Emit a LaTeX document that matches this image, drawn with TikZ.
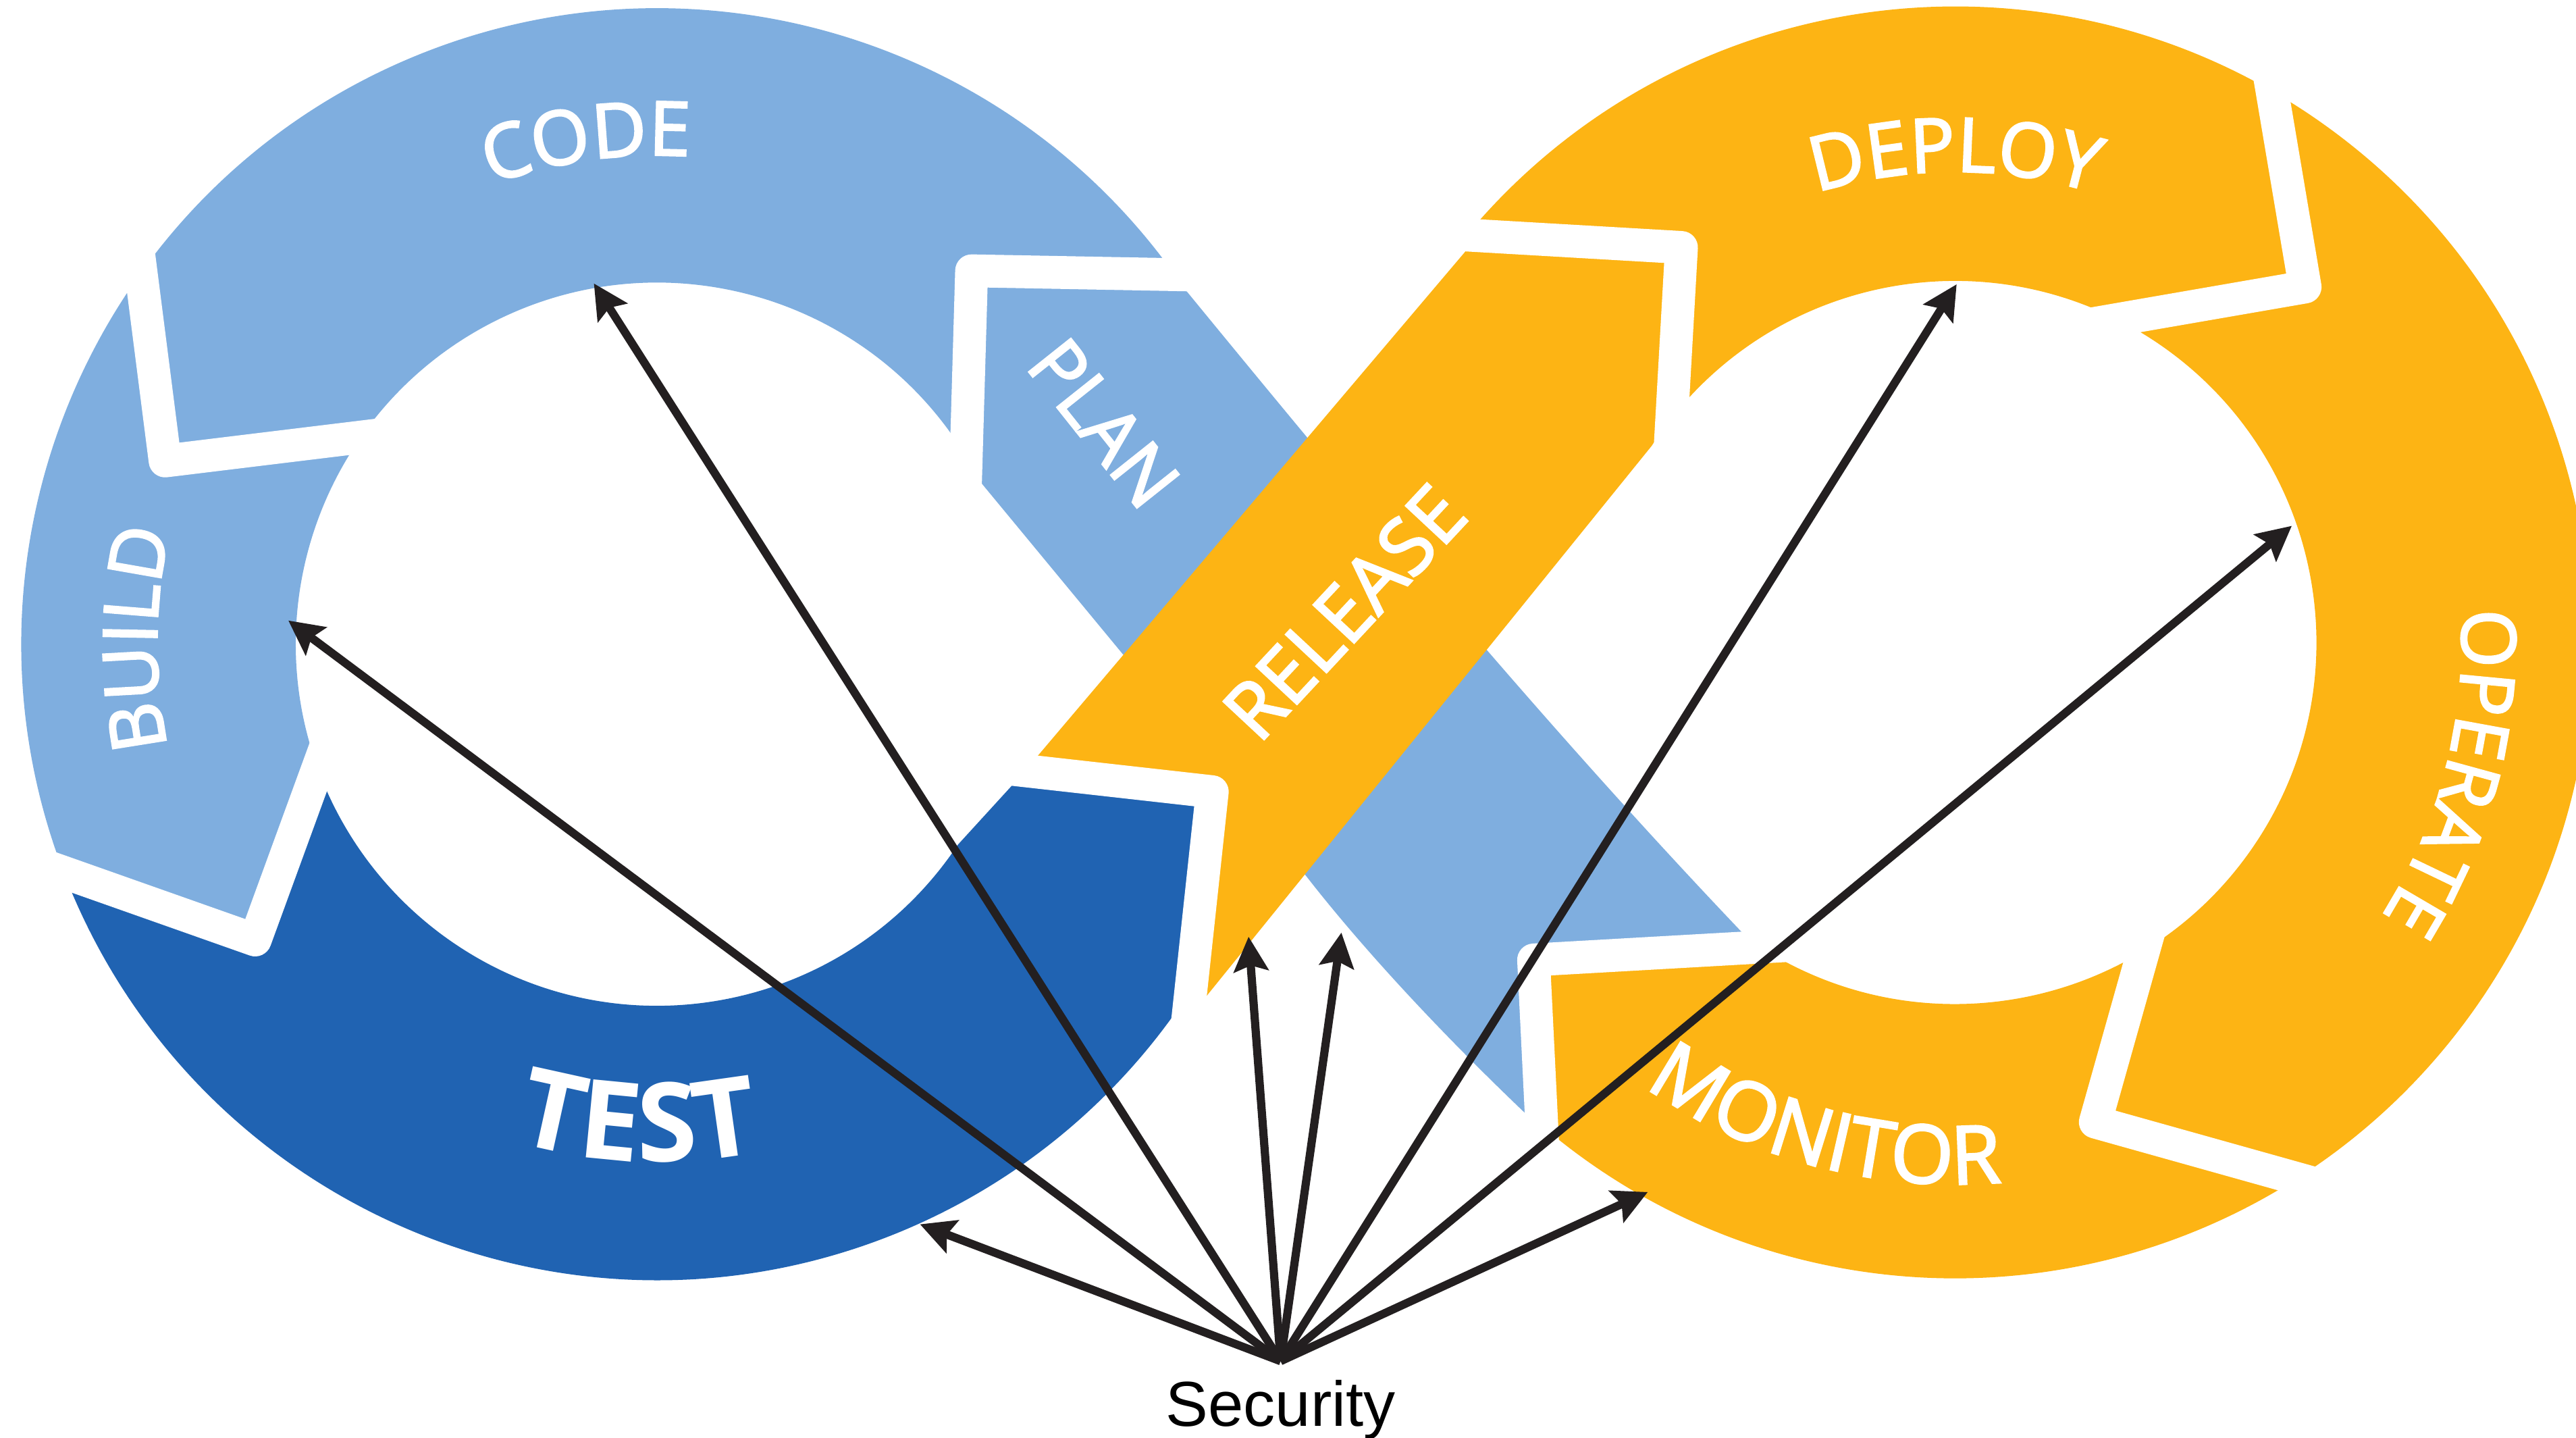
\documentclass[tikz,border=0pt]{standalone}
\usepackage{fontspec}
\setmainfont{Liberation Sans}
\newfontfamily\labelfont{Open Sans}
\newfontfamily\labelsemi[FakeBold=2.5]{Open Sans}
\usetikzlibrary{arrows.meta, decorations.text}

\definecolor{codeblue}{RGB}{127,174,223}
\definecolor{testblue}{RGB}{32,99,178}
\definecolor{opsorange}{RGB}{253,180,20}
\definecolor{arrowink}{RGB}{35,31,32}

\newcommand{\segfont}{\fontsize{13pt}{15pt}\labelsemi}
\newcommand{\segbold}{\fontsize{19pt}{22pt}\labelfont\bfseries}
\newcommand{\segwide}{\fontsize{14pt}{16pt}\labelsemi}

\begin{document}
\begin{tikzpicture}[x=0.1mm, y=-0.1mm,
  gap/.style={draw=white, line width=2mm, line join=round},
  segtext/.style 2 args={decorate, decoration={text along path,
      text align=center, text color=white, text={|#1|#2}}},
  seglabel/.style={text=white, font=\segfont, inner sep=0pt},
  arr/.style={-{Stealth[length=2.1mm, width=2.1mm, inset=0.35mm]},
              line width=0.5mm, draw=arrowink}
]
  \useasboundingbox (0,0) rectangle (1568,875);
  \coordinate (Lc) at (400,392);
  \coordinate (Rc) at (1190,391);

  % left loop and plan band
  \fill[codeblue] ([shift={(158.7:387)}]Lc)
    arc[start angle=158.7, end angle=325.85, radius=387]
    .. controls (830,308.6) and (940.7,441.7) .. (1060,567)
    -- (1074.5,576) -- (933.5,584.2) -- (938.5,687)
    .. controls (880,632) and (830,578) .. (795,533)
    -- (596.4,292.8) arc[start angle=-26.8, end angle=-200.2, radius=220]
    -- (155.3,572) -- cycle;
  \fill[testblue] ([shift={(158.7:387)}]Lc)
    arc[start angle=158.7, end angle=33, radius=387]
    -- (737.9,481.8) -- (624,469) -- (616,478) -- (583,514.1)
    arc[start angle=33.7, end angle=159.8, radius=220]
    -- (155.3,572) -- cycle;
  % right loop and release band
  \fill[opsorange] (737.9,481.8) -- (624,469) -- (892,153) -- (887.6,149.5)
    arc[start angle=218.6, end angle=490.35, radius=387]
    -- (933.5,584.2) -- (1074.5,576) -- (1073.5,577.6)
    arc[start angle=481.97, end angle=212.96, radius=220]
    -- (734.5,606) -- (724.6,602.8) -- cycle;

  % gaps between stages
  \draw[gap] (740,167.6) -- (591.4,164.8) -- (587.2,310);
  \draw[gap] (80,120) -- (100.5,280.5) -- (240,263.5);
  \draw[gap] (10,520.7) -- (155.3,572) -- (203.5,440);
  \draw[gap] (590,465.2) -- (737.9,481.8) -- (718.7,660);
  \draw[gap] (870,141.7) -- (1023.5,150.6) -- (1015.6,290);
  \draw[gap] (1377,20) -- (1403.1,174.65) -- (1270,197.7);
  \draw[gap] (1310,560) -- (1275.4,682.8) -- (1430,726.1);
  \draw[gap] (1100,574.7) -- (933.5,584.15) -- (940.2,720);

  % stage labels
  \path[segtext={\segfont}{CODE}] ([shift={(-128:297.5)}]Lc)
    arc[start angle=-128, end angle=-68, radius=297.5];
  \path[segtext={\segfont}{BUILD}] ([shift={(150.6:304.5)}]Lc)
    arc[start angle=150.6, end angle=210.6, radius=304.5];
  \path[segtext={\segbold}{TEST}] ([shift={(122.2:315)}]Lc)
    arc[start angle=122.2, end angle=62.2, radius=315];
  \path[segtext={\segfont}{DEPLOY}] ([shift={(-120:286.5)}]Rc)
    arc[start angle=-120, end angle=-60, radius=286.5];
  \path[segtext={\segfont}{OPERATE}] ([shift={(-20.5:308.5)}]Rc)
    arc[start angle=-20.5, end angle=49.5, radius=308.5];
  \path[segtext={\segwide}{MONITOR}] ([shift={(140:329.5)}]Rc)
    arc[start angle=140, end angle=70, radius=329.5];
  \node[seglabel, rotate=-51.5] (plan) at (672,257.5) {PLAN};
  \node[seglabel, rotate=47, font=\fontsize{13.5pt}{15pt}\labelsemi] (release) at (818.4,372.6) {RELEASE};

  % security arrows
  \node[font=\fontsize{11pt}{13pt}\selectfont, inner sep=1.1mm, anchor=base] (security) at (779.5,868) {Security};
  \coordinate (codetip) at (361.5,172.5);
  \coordinate (buildtip) at (175.5,377.6);
  \coordinate (testtip) at (560,745);
  \coordinate (releasetip) at (760,570);
  \coordinate (plantip) at (816.5,567.5);
  \coordinate (deploytip) at (1191,173);
  \coordinate (operatetip) at (1395,320);
  \coordinate (monitortip) at (1003,725.4);
  \draw[arr] (security.north) -- (codetip);
  \draw[arr] (security.north) -- (buildtip);
  \draw[arr] (security.north) -- (testtip);
  \draw[arr] (security.north) -- (releasetip);
  \draw[arr] (security.north) -- (plantip);
  \draw[arr] (security.north) -- (deploytip);
  \draw[arr] (security.north) -- (operatetip);
  \draw[arr] (security.north) -- (monitortip);
\end{tikzpicture}
\end{document}
